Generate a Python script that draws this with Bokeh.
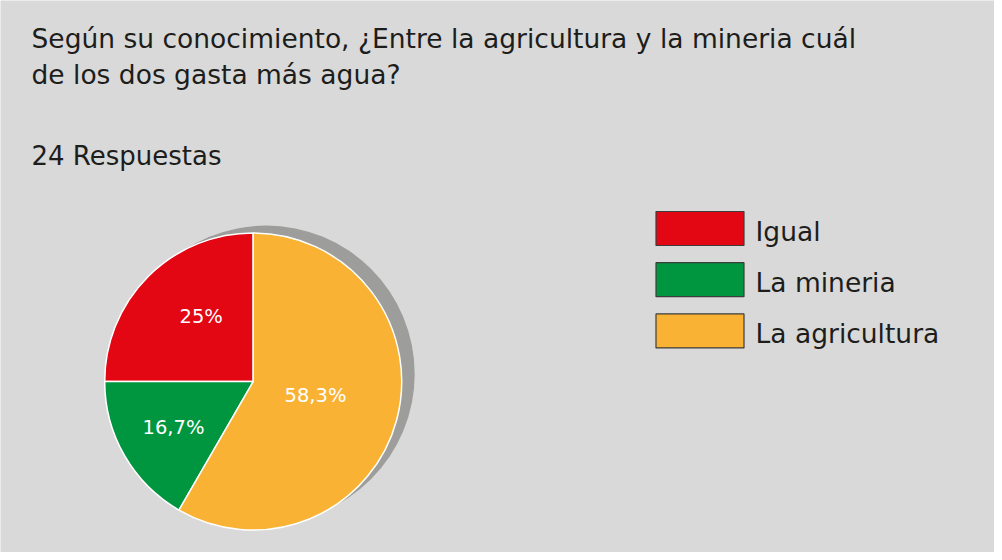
import math
from bokeh.plotting import figure
from bokeh.models import Range1d, Label, ColumnDataSource
from bokeh.core.properties import value
from bokeh.embed import file_html
from bokeh.resources import INLINE

# ---- data ----
categories = ["Igual", "La mineria", "La agricultura"]
counts = [6, 4, 14]
colors = ["#e30613", "#009640", "#f9b233"]
title_lines = ["Según su conocimiento, ¿Entre la agricultura y la mineria cuál",
               "de los dos gasta más agua?"]
subtitle = "24 Respuestas"

FONT = "DejaVu Sans"
W, H = 994, 552
BG = "#d9d9d9"
TXT = "#1d1d1b"
BASE_FIX = 9.5  # px correction for the alphabetic baseline

p = figure(width=W, height=H, output_backend="svg", toolbar_location=None,
           x_axis_location=None, y_axis_location=None, min_border=0,
           x_range=Range1d(8, 8 + W), y_range=Range1d(0, H),
           background_fill_color=BG, border_fill_color=BG,
           outline_line_color=None)
p.grid.visible = False

def Y(page_y):
    return 560 - page_y

# titles
for i, line in enumerate(title_lines):
    p.add_layout(Label(x=39, y=Y(55 + 36.5 * i) + BASE_FIX, text=line,
                       text_font=FONT, text_font_size="26.5px",
                       text_color=TXT, text_baseline="alphabetic"))
p.add_layout(Label(x=39, y=Y(173) + BASE_FIX, text=subtitle, text_font=FONT,
                   text_font_size="26px", text_color=TXT,
                   text_baseline="alphabetic"))

# pie
cx, cy, R = 260.7, Y(389), 148.5
total = sum(counts)
starts, ends, labels, lx, ly = [], [], [], [], []
ang = math.pi / 2
label_r = [0.56, 0.62, 0.43]
label_da = [-0.11, 0.0, 0.04]
for i, c in enumerate(counts):
    frac = c / total
    a0, a1 = ang, ang + 2 * math.pi * frac
    starts.append(a0)
    ends.append(a1)
    pct = round(frac * 100, 1)
    s = ("%.1f" % pct).rstrip("0").rstrip(".").replace(".", ",") + "%"
    labels.append(s)
    mid = (a0 + a1) / 2 + label_da[i]
    lx.append(cx + R * label_r[i] * math.cos(mid))
    ly.append(cy + R * label_r[i] * math.sin(mid))
    ang = a1

# shadow
p.circle(x=[cx + 13], y=[cy + 7.5], radius=R, fill_color="#9d9d9c",
         line_color=None)

src = ColumnDataSource(dict(cat=categories, start=starts, end=ends,
                            color=colors, label=labels, lx=lx, ly=ly))
p.wedge(x=cx, y=cy, radius=R, start_angle="start", end_angle="end",
        direction="anticlock", fill_color="color", line_color="white",
        line_width=1.5, source=src)
p.text(x="lx", y="ly", text="label", source=src, text_font=value(FONT),
       text_font_size="19.5px", text_color="white", text_align="center",
       text_baseline="middle")

# legend (manual)
bx, bw, bh, top0, step = 663.5, 88, 34, 219, 51.2
lsrc = ColumnDataSource(dict(
    x=[bx + bw / 2] * len(categories),
    y=[Y(top0 + bh / 2 + step * i) for i in range(len(categories))],
    tx=[763] * len(categories),
    ty=[Y(248 + step * i) + BASE_FIX for i in range(len(categories))],
    cat=categories, color=colors))
p.rect(x="x", y="y", width=bw, height=bh, fill_color="color",
       line_color="#3c3c3b", line_width=1.2, source=lsrc)
p.text(x="tx", y="ty", text="cat", source=lsrc, text_font=value(FONT),
       text_font_size="26.5px", text_color=TXT, text_baseline="alphabetic")

open("out.html", "w").write(file_html(p, INLINE))
